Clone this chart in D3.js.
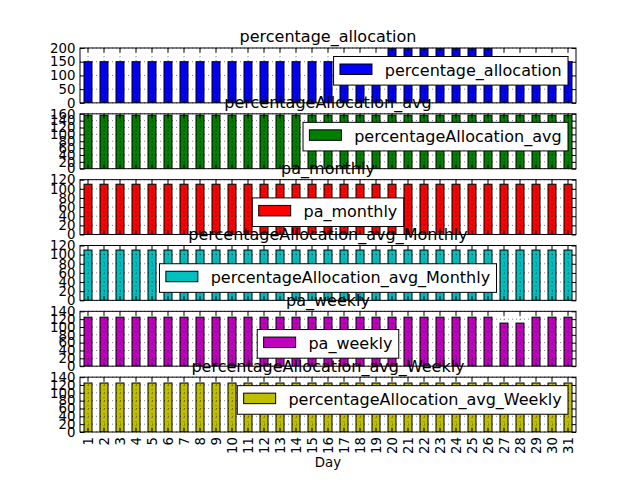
<!DOCTYPE html>
<html><head><meta charset="utf-8">
<script src="https://cdn.jsdelivr.net/npm/d3@7"></script>
<style>body{margin:0;background:#fff}svg{display:block;font-family:"DejaVu Sans",sans-serif}</style>
</head><body><svg id="c" width="640" height="480"></svg>
<script>
const days = [1,2,3,4,5,6,7,8,9,10,11,12,13,14,15,16,17,18,19,20,21,22,23,24,25,26,27,28,29,30,31];

const percentage_allocation = [150,150,150,150,150,150,150,150,150,150,150,150,150,150,150,150,150,150,150,200,200,200,200,200,200,200,150,150,150,150,150];
const percentageAllocation_avg = [156,156,156,156,156,156,156,156,156,156,156,156,156,156,156,156,156,156,156,156,156,156,156,156,156,156,156,156,156,156,156];
const pa_monthly = [110,110,110,110,110,110,110,110,110,110,110,110,110,110,110,110,110,110,110,110,110,110,110,110,110,110,110,110,110,110,110];
const percentageAllocation_avg_Monthly = [110,110,110,110,110,110,110,110,110,110,110,110,110,110,110,110,110,110,110,110,110,110,110,110,110,110,110,110,110,110,110];
const pa_weekly = [125,125,125,125,125,125,125,125,125,125,125,125,125,125,125,125,125,125,125,125,125,125,125,125,125,125,110,110,125,125,125];
const percentageAllocation_avg_Weekly = [125,125,125,125,125,125,125,125,125,125,125,125,125,125,125,125,125,125,125,125,125,125,125,125,125,125,125,125,125,125,125];

const ticks_allocation = [0,50,100,150,200];
const ticks_avg = [0,20,40,60,80,100,120,140,160];
const ticks_monthly = [0,20,40,60,80,100,120];
const ticks_avg_monthly = [0,20,40,60,80,100,120];
const ticks_weekly = [0,20,40,60,80,100,120,140];
const ticks_avg_weekly = [0,20,40,60,80,100,120,140];

const seriesNames = ["percentage_allocation","percentageAllocation_avg","pa_monthly","percentageAllocation_avg_Monthly","pa_weekly","percentageAllocation_avg_Weekly"];
const seriesValues = [percentage_allocation, percentageAllocation_avg, pa_monthly, percentageAllocation_avg_Monthly, pa_weekly, percentageAllocation_avg_Weekly];
const seriesTicks = [ticks_allocation, ticks_avg, ticks_monthly, ticks_avg_monthly, ticks_weekly, ticks_avg_weekly];
const seriesColors = ["#0000ff","#008000","#ff0000","#00bfbf","#bf00bf","#bfbf00"];
const legendLocs = ["upper right","upper right","lower center","lower center","lower center","upper right"];
const xLabel = "Day";

const mLeft = 80, mRight = 576, mTop = 48, mBottom = 432;
const n = seriesNames.length;
const ph = (mBottom - mTop) / (n + (n - 1) * 0.2), gap = 0.2 * ph;
const tickLen = 4.4;
const svg = d3.select("#c");
svg.append("rect").attr("width",640).attr("height",480).attr("fill","#fff");

const x = d3.scaleBand().domain(days).range([mLeft, mRight]).paddingInner(0.5).paddingOuter(0.25);
const xc = d => x(d) + x.bandwidth() / 2;

seriesNames.forEach((name, i) => {
  const y0 = mTop + i * (ph + gap), y1 = y0 + ph;
  const ticks = seriesTicks[i];
  const y = d3.scaleLinear().domain([0, d3.max(ticks)]).range([y1, y0]);
  const g = svg.append("g");
  const cid = "clip" + i;
  g.append("clipPath").attr("id", cid).append("rect").attr("x", mLeft).attr("y", y0).attr("width", mRight - mLeft).attr("height", ph);
  g.append("rect").attr("x", mLeft).attr("y", y0).attr("width", mRight - mLeft).attr("height", ph).attr("fill", "#fff");

  g.append("g").attr("clip-path", `url(#${cid})`).selectAll("rect").data(seriesValues[i]).join("rect")
    .attr("x", (d, j) => x(days[j])).attr("y", d => y(d))
    .attr("width", x.bandwidth()).attr("height", d => y(0) - y(d))
    .attr("fill", seriesColors[i]).attr("stroke", "#000").attr("stroke-width", 1);

  const grid = g.append("g").attr("stroke", "#000").attr("stroke-width", 0.5).attr("stroke-dasharray", "1,3");
  grid.selectAll("line.h").data(ticks).join("line").attr("class","h")
    .attr("x1", mLeft).attr("x2", mRight).attr("y1", d => y(d)).attr("y2", d => y(d));
  grid.selectAll("line.v").data(days).join("line").attr("class","v")
    .attr("x1", d => xc(d)).attr("x2", d => xc(d)).attr("y1", y0).attr("y2", y1);

  const styleAxis = sel => { sel.select(".domain").remove(); sel.selectAll("line").attr("stroke","#000").attr("stroke-width",1); };
  const ay = g.append("g").attr("transform", `translate(${mLeft},0)`)
    .call(d3.axisLeft(y).tickValues(ticks).tickSizeInner(-tickLen).tickSizeOuter(0).tickPadding(4.5).tickFormat(d3.format("d")));
  styleAxis(ay);
  ay.selectAll("text").attr("font-size", 13.33).attr("fill", "#000").attr("font-family", "DejaVu Sans");
  const ayr = g.append("g").attr("transform", `translate(${mRight},0)`)
    .call(d3.axisRight(y).tickValues(ticks).tickSizeInner(-tickLen).tickSizeOuter(0).tickFormat(""));
  styleAxis(ayr);
  const axt = g.append("g").attr("transform", `translate(0,${y0})`)
    .call(d3.axisTop(x).tickSizeInner(-tickLen).tickSizeOuter(0).tickFormat(""));
  styleAxis(axt);
  const axb = g.append("g").attr("transform", `translate(0,${y1})`)
    .call(d3.axisBottom(x).tickSizeInner(-tickLen).tickSizeOuter(0).tickFormat(i === n - 1 ? d3.format("d") : ""));
  styleAxis(axb);
  if (i === n - 1) {
    axb.selectAll("text").attr("font-size", 13.33).attr("fill", "#000").attr("font-family", "DejaVu Sans")
      .attr("transform", "rotate(-90)").attr("x", -5).attr("y", 0).attr("dy", "0.35em").attr("text-anchor", "end");
  }

  g.append("rect").attr("x", mLeft).attr("y", y0).attr("width", mRight - mLeft).attr("height", ph)
    .attr("fill", "none").attr("stroke", "#000").attr("stroke-width", 1);

  const lg = g.append("g");
  const lbox = lg.append("rect").attr("fill", "#fff").attr("stroke", "#000").attr("stroke-width", 1);
  const lpatch = lg.append("rect").attr("fill", seriesColors[i]).attr("stroke", "#000").attr("stroke-width", 1);
  const ltext = lg.append("text").text(name).attr("font-size", 16).attr("fill", "#000");
  const tw = ltext.node().getComputedTextLength();
  const lw = 6.4 + 32 + 12.8 + tw + 6.4, lh = 28.6;
  let lx, ly;
  if (legendLocs[i] === "upper right") { lx = mRight - 8 - lw; ly = y0 + 8.5; }
  else { lx = (mLeft + mRight) / 2 - lw / 2; ly = y1 - 8 - lh; }
  lbox.attr("x", lx).attr("y", ly).attr("width", lw).attr("height", lh);
  lpatch.attr("x", lx + 6.4).attr("y", ly + 7.5).attr("width", 32).attr("height", 10.5);
  ltext.attr("x", lx + 6.4 + 32 + 12.8).attr("y", ly + 19.2);

  g.append("text").attr("x", (mLeft + mRight) / 2).attr("y", y0 - 5.6).attr("text-anchor", "middle")
    .attr("font-size", 16).attr("fill", "#000").text(name);
});

svg.append("text").attr("x", (mLeft + mRight) / 2).attr("y", 467).attr("text-anchor", "middle")
  .attr("font-size", 13.33).attr("fill", "#000").text(xLabel);
</script>
</body></html>
